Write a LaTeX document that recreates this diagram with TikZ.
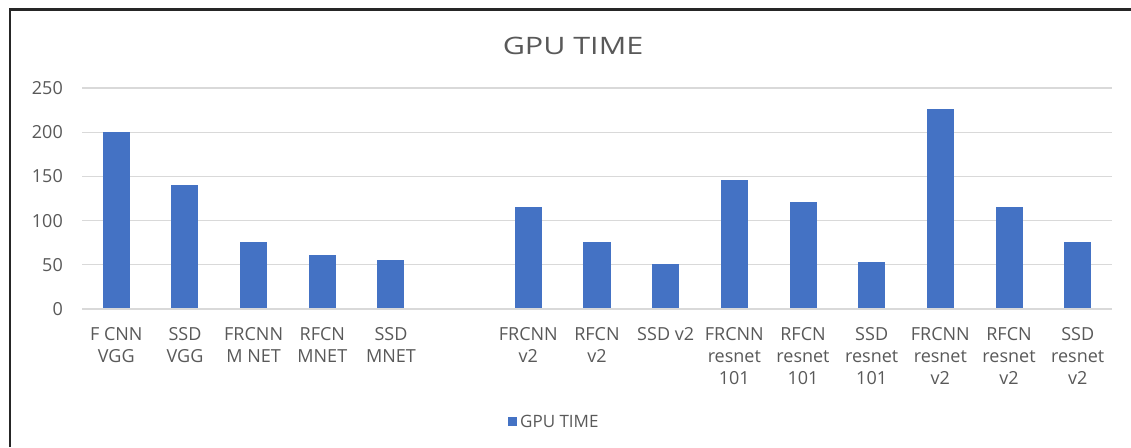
\documentclass[tikz,border=0pt]{standalone}
\usepackage{fontspec}
\usepackage{graphicx}
\setmainfont{Open Sans}
\definecolor{barblue}{HTML}{4472C4}
\definecolor{txtgray}{HTML}{595959}
\definecolor{gridgray}{HTML}{D9D9D9}
\begin{document}
\begin{tikzpicture}[x=1pt,y=-1pt,
  bar/.style={fill=barblue,draw=none,minimum width=27pt,inner sep=0pt,anchor=south},
  tick/.style={text=txtgray,font=\fontsize{18}{22}\selectfont,anchor=east,inner sep=0pt},
  cat/.style={text=txtgray,font=\fontsize{18}{22}\selectfont,align=center,anchor=north,inner sep=0pt},
  grid/.style={draw=gridgray,line width=1.2pt},
  frame/.style={draw=black!85,line width=2.6pt}]
\useasboundingbox (0,0) rectangle (1131,447);
\fill[white] (0,0) rectangle (1131,447);
% frame
\draw[frame] (10,447) -- (10,9.5) -- (1131,9.5);
% gridlines and tick labels
\foreach \v in {0,50,...,250}{
  \draw[grid] (82,{309-0.884*\v}) -- (1112,{309-0.884*\v});
  \node[tick] (t\v) at (63,{309-0.884*\v}) {\v};
}
% title
\node[text=txtgray,font=\fontsize{24}{28}\selectfont,anchor=base,inner sep=0pt] (title) at (573,54) {\scalebox{1.27}[1]{GPU TIME}};
% bars and labels
\foreach \i/\v/\l in {1/200/{F CNN\\VGG},2/140/{SSD\\VGG},3/75/{FRCNN\\M NET},4/60/{RFCN\\MNET},5/55/{SSD\\MNET},
  7/115/{FRCNN\\v2},8/75/{RFCN\\v2},9/50/{SSD v2},10/145/{FRCNN\\resnet\\101},11/120/{RFCN\\resnet\\101},
  12/52/{SSD\\resnet\\101},13/225/{FRCNN\\resnet\\v2},14/115/{RFCN\\resnet\\v2},15/75/{SSD\\resnet\\v2}}{
  \node[bar,minimum height={0.884*\v*1pt}] (b\i) at ({116.3+(\i-1)*68.67},308.5) {};
  \node[cat] (c\i) at ({116.3+(\i-1)*68.67},327) {\l};
}
% legend
\node[fill=barblue,minimum size=9pt,inner sep=0pt] (lk) at (512.5,421.5) {};
\node[text=txtgray,font=\fontsize{17}{20}\selectfont,anchor=west,inner sep=0pt] (lt) at (520,421.5) {GPU TIME};
\end{tikzpicture}
\end{document}
